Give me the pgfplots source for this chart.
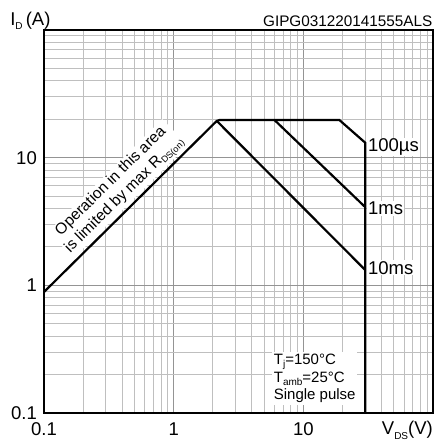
\documentclass[border=0pt]{standalone}
\usepackage{fontspec}
\setmainfont{Liberation Sans}
\usepackage{pgfplots}
\pgfplotsset{compat=1.18}

\newcommand{\sub}[2][4pt]{\raisebox{-#1}{\fontsize{10}{10}\selectfont #2}}

\begin{document}
\begin{tikzpicture}
\path (0,0) rectangle (436pt,445pt);
\begin{loglogaxis}[
  at={(44pt,32pt)}, anchor=south west,
  scale only axis, width=389pt, height=383pt,
  xmin=0.1, xmax=100, ymin=0.1, ymax=100,
  xtick={0.1,1,10,100}, xticklabels={0.1,1,10,{}},
  ytick={0.1,1,10,100}, yticklabels={0.1,1,10,{}},
  major tick length=0pt, minor tick length=0pt,
  grid=both,
  minor grid style={black!25, line width=1pt},
  major grid style={black!42, line width=1.3pt},
  axis line style={line width=1.2pt},
  ticklabel style={font=\fontsize{18.5}{20}\selectfont},
  xticklabel style={anchor=base, yshift=-22pt},
  yticklabel style={anchor=east, inner sep=0pt, xshift=-7pt},
  clip=false,
]
% text behind the curves
\node[rotate=44.6, fill=white, inner sep=1pt, align=center,
      font=\fontsize{15.5}{18.5}\selectfont] at (axis cs:0.372,5.73)
  {Operation in this area\\is limited by max R\sub[3pt]{\fontsize{9}{9}\selectfont DS(on)}};

% SOA curves
\addplot[black, line width=2.2pt] coordinates {
  (0.1,0.887)(2.15,19.4)(2.25,19.7)(19,19.7)(30,13.1)(30,0.1)};
\addplot[black, line width=2.2pt] coordinates {(2.15,19.4)(30,1.32)};
\addplot[black, line width=2.2pt] coordinates {(6.0,19.7)(30,4.1)};

% curve labels
\node[anchor=west, fill=white, inner sep=1pt, xshift=1.7pt,
      font=\fontsize{18.5}{20}\selectfont] at (axis cs:30,12.1) {100µs};
\node[anchor=west, fill=white, inner sep=1pt, xshift=1.7pt,
      font=\fontsize{18.5}{20}\selectfont] at (axis cs:30,4.03) {1ms};
\node[anchor=west, fill=white, inner sep=1pt, xshift=1.7pt,
      font=\fontsize{18.5}{20}\selectfont] at (axis cs:30,1.37) {10ms};

% conditions
\node[anchor=north west, fill=white, inner xsep=1.5pt, inner ysep=2pt, align=left,
      font=\fontsize{15}{17.5}\selectfont] at (axis cs:5.75,0.30)
  {T\sub[3pt]{j}=150°C\\T\sub[3pt]{amb}=25°C\\Single pulse};

% axis titles
\node[anchor=base west, inner sep=0pt, font=\fontsize{18.5}{20}\selectfont]
  at (axis description cs:-0.087,1.013) {I\sub{D}\,(A)};
\node[anchor=base east, inner sep=0pt, font=\fontsize{15.3}{17}\selectfont]
  at (axis description cs:0.999,1.0086) {GIPG031220141555ALS};
\node[anchor=base east, inner sep=0pt, font=\fontsize{18.5}{20}\selectfont]
  at (axis description cs:1.0,-0.0574) {V\sub[4.5pt]{DS}(V)};
\end{loglogaxis}
\end{tikzpicture}
\end{document}
